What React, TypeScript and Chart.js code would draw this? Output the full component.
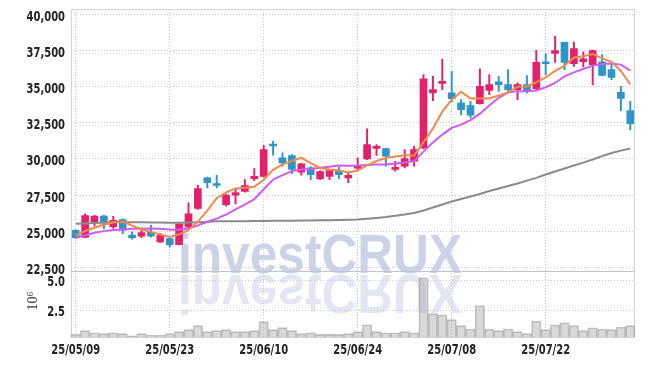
import React, { useEffect, useRef } from 'react';
import { Chart, registerables } from 'chart.js';
Chart.register(...registerables);

const dates = [
  '25/05/09','25/05/12','25/05/13','25/05/14','25/05/15','25/05/16','25/05/19','25/05/20','25/05/21','25/05/22',
  '25/05/23','25/05/26','25/05/27','25/05/28','25/05/29','25/05/30','25/06/02','25/06/04','25/06/05','25/06/09',
  '25/06/10','25/06/11','25/06/12','25/06/13','25/06/16','25/06/17','25/06/18','25/06/19','25/06/20','25/06/23',
  '25/06/24','25/06/25','25/06/26','25/06/27','25/06/30','25/07/01','25/07/02','25/07/03','25/07/04','25/07/07',
  '25/07/08','25/07/09','25/07/10','25/07/11','25/07/14','25/07/15','25/07/16','25/07/17','25/07/18','25/07/21',
  '25/07/22','25/07/23','25/07/24','25/07/25','25/07/28','25/07/29','25/07/30','25/07/31','25/08/01','25/08/04',
];

const opens = [
  25050,24570,25650,26040,25300,25800,24720,24650,24930,24260,
  24490,24070,25300,26570,28690,28300,26840,27490,27760,28640,
  28800,30950,30080,30240,29080,29380,28640,28800,29150,28690,
  29360,30010,30730,30720,29270,29500,29840,30770,34580,35240,
  34580,33890,33700,33840,34760,35340,35150,34810,35150,34880,
  36650,37320,38080,36610,36750,36540,36730,36190,34620,33350,
];
const highs = [
  25100,26200,26100,26100,26030,25850,24950,25230,25400,24850,
  24500,25550,26960,28180,28750,28870,27550,27950,28570,29340,
  30930,31230,30430,30300,29700,29470,29200,29250,29430,29040,
  30080,32090,31000,30750,29840,30650,30880,35850,35730,36930,
  36070,34110,34000,36240,35850,35730,36190,35270,35780,37530,
  37300,38500,38100,38110,37420,37550,37230,36600,35040,34000,
];
const lows = [
  24500,24550,25340,25150,25180,24830,24440,24540,24580,24200,
  23890,24050,25160,26500,28000,28000,26730,26890,27700,28500,
  28750,30260,29500,28990,28870,28570,28570,28570,28640,28350,
  29300,29960,30240,29500,29150,29380,29500,30700,34050,34810,
  33960,33080,32850,33800,34460,34690,34580,34110,34580,34800,
  35850,36700,36190,36420,36380,35150,35750,35500,33350,32040,
];
const closes = [
  24550,26080,26040,25560,25755,25060,24540,24900,24650,24720,
  24070,25510,26200,27950,28350,28160,27490,27670,28160,28800,
  30650,30900,29730,29270,29660,28920,29130,29200,28920,28870,
  29560,31000,30780,30190,29430,30030,30650,35550,34810,35340,
  34180,33420,33030,35040,35150,35150,34810,35150,34740,36700,
  36600,37510,36700,37650,36950,37510,35800,35660,34200,32450,
];

const ma5 = [
  24700,25000,25230,25460,25600,25680,25380,25110,24950,24770,
  24600,24780,25060,25660,26420,27280,27680,27960,28000,28080,
  28560,29250,29630,29880,30080,29710,29380,29270,29210,29070,
  29200,29560,29860,30070,30180,30260,30230,31150,32110,33280,
  34110,34660,34200,34190,34200,34400,34620,35000,35030,35330,
  35650,36100,36460,37040,37120,37280,36970,36730,36100,35170,
];
const ma10 = [
  24540,24720,24890,25000,25070,25110,25160,25160,25180,25160,
  25110,25090,25180,25400,25650,25870,26150,26500,26840,27220,
  27900,28570,28880,29160,29270,29310,29400,29470,29540,29530,
  29540,29575,29610,29610,29680,29750,29850,30510,31140,31690,
  32160,32380,32700,33140,33700,34240,34620,34690,34690,34740,
  34970,35270,35730,36000,36240,36470,36590,36610,36540,36120,
];
const maLong = [
  25506,25527,25560,25596,25610,25624,25624,25610,25596,25596,
  25582,25582,25596,25624,25650,25680,25690,25690,25690,25700,
  25707,25714,25720,25727,25735,25735,25750,25762,25776,25790,
  25804,25852,25908,25977,26067,26150,26254,26427,26635,26843,
  27050,27224,27400,27570,27777,27950,28124,28300,28500,28690,
  28920,29128,29336,29544,29750,29960,30200,30410,30580,30730,
];
const volumes = [
  0.48,0.79,0.62,0.54,0.62,0.54,0.35,0.54,0.43,0.43,
  0.54,0.71,0.88,1.21,0.71,0.79,0.88,0.71,0.71,0.79,
  1.55,0.88,1.04,0.79,0.54,0.60,0.48,0.48,0.48,0.54,
  0.71,1.27,0.71,0.62,0.62,0.71,0.62,5.23,2.22,2.11,
  1.72,1.21,0.93,2.90,0.93,0.79,0.93,0.71,0.54,1.60,
  0.88,1.27,1.44,1.21,0.79,1.02,0.93,0.88,1.10,1.21,
];

const priceTicks = [22500, 25000, 27500, 30000, 32500, 35000, 37500, 40000];
const volumeTicks = [2.5, 5.0];

const UP = '#e4206b';
const DOWN = '#2f95c9';
const GRID = '#c6c8d8';
const LABEL_FONT = "bold 14px 'DejaVu Sans Condensed', 'DejaVu Sans', sans-serif";
const LABEL_SX = 0.79;

const watermark = {
  id: 'watermark',
  beforeDraw(chart: any) {
    const ctx = chart.ctx;
    ctx.save();
    ctx.font = "bold 56px 'Liberation Sans', Arial, sans-serif";
    const text = 'investCRUX';
    const w = ctx.measureText(text).width;
    ctx.translate(178, 273);
    ctx.scale(284 / w, 1);
    ctx.textBaseline = 'alphabetic';
    ctx.fillStyle = 'rgb(204,210,232)';
    ctx.fillText(text, 0, 0);
    ctx.scale(1, -1);
    ctx.fillStyle = 'rgb(228,231,242)';
    ctx.fillText(text, 0, -2);
    ctx.restore();
  },
};

const frame = {
  id: 'frame',
  beforeDatasetsDraw(chart: any) {
    const { ctx, chartArea } = chart;
    const y = chart.scales.y;
    ctx.save();
    ctx.strokeStyle = '#d2d2d8';
    ctx.lineWidth = 1;
    ctx.strokeRect(chartArea.left + 0.5, chartArea.top + 0.5, chartArea.right - chartArea.left - 1, chartArea.bottom - chartArea.top);
    ctx.strokeStyle = '#c4c4c8';
    ctx.beginPath();
    ctx.moveTo(chartArea.left, Math.round(y.bottom) + 0.5);
    ctx.lineTo(chartArea.right, Math.round(y.bottom) + 0.5);
    ctx.stroke();
    ctx.restore();
  },
  afterDraw(chart: any) {
    const ctx = chart.ctx;
    const { x, y, yv } = chart.scales;
    const draw = (text: string, px: number, py: number, align: CanvasTextAlign) => {
      ctx.save();
      ctx.translate(px, py);
      ctx.scale(LABEL_SX, 1);
      ctx.textAlign = align;
      ctx.fillText(text, 0, 0);
      ctx.restore();
    };
    ctx.save();
    ctx.font = LABEL_FONT;
    ctx.fillStyle = '#222';
    ctx.textBaseline = 'alphabetic';
    priceTicks.forEach((v) => draw(v.toLocaleString('en-US'), 65, y.getPixelForValue(v) + 6.5, 'right'));
    volumeTicks.forEach((v) => draw(v.toFixed(1), 65, yv.getPixelForValue(v) + 6, 'right'));
    dates.forEach((d, i) => { if (i % 10 === 0) draw(d, x.getPixelForValue(i), 354, 'center'); });
    ctx.restore();

    ctx.save();
    ctx.translate(33, 301);
    ctx.rotate(-Math.PI / 2);
    ctx.fillStyle = '#333';
    ctx.font = "14px 'Liberation Serif', serif";
    ctx.textAlign = 'center';
    ctx.textBaseline = 'middle';
    ctx.fillText('10\u2076', 0, 0);
    ctx.restore();
  },
};

export default function App() {
  const ref = useRef<HTMLCanvasElement>(null);
  useEffect(() => {
    document.body.style.margin = '0';
    const colors = opens.map((o, i) => (closes[i] >= o ? UP : DOWN));
    const chart = new Chart(ref.current!, {
      type: 'bar',
      data: {
        labels: dates,
        datasets: [
          { type: 'line', label: 'MA5', data: ma5, yAxisID: 'y', borderColor: '#ef8a4c', borderWidth: 2, pointRadius: 0, order: 1 } as any,
          { type: 'line', label: 'MA10', data: ma10, yAxisID: 'y', borderColor: '#cf5cf0', borderWidth: 2, pointRadius: 0, order: 2 } as any,
          { type: 'line', label: 'MA60', data: maLong, yAxisID: 'y', borderColor: '#8a8a8a', borderWidth: 2, pointRadius: 0, order: 3 } as any,
          { type: 'bar', label: 'body', data: opens.map((o, i) => [o, closes[i]]), yAxisID: 'y', backgroundColor: colors, barThickness: 7, minBarLength: 2, grouped: false, order: 4 } as any,
          { type: 'bar', label: 'wick', data: lows.map((l, i) => [l, highs[i]]), yAxisID: 'y', backgroundColor: colors, barThickness: 1.3, grouped: false, order: 5 } as any,
          { type: 'bar', label: 'volume', data: volumes, yAxisID: 'yv', backgroundColor: 'rgba(150,150,150,0.36)', borderColor: 'rgba(120,120,120,0.42)', borderWidth: 1, barPercentage: 1, categoryPercentage: 1, grouped: false, order: 6 } as any,
        ],
      },
      options: {
        responsive: false,
        animation: false,
        devicePixelRatio: 1,
        layout: { padding: { top: 9, right: 10, left: 0, bottom: 0 } },
        plugins: { legend: { display: false }, tooltip: { enabled: false } },
        scales: {
          x: {
            type: 'category',
            offset: true,
            grid: { offset: false, drawTicks: false, color: (c: any) => (c.index % 10 === 0 ? GRID : 'rgba(0,0,0,0)') },
            border: { display: false, dash: [1, 2] },
            ticks: { display: false, autoSkip: false },
            afterFit: (s: any) => { s.height = 29; },
          },
          yv: {
            type: 'linear', position: 'left', stack: 'main', stackWeight: 1,
            min: 0.26, max: 5.76,
            afterBuildTicks: (s: any) => { s.ticks = volumeTicks.map((v) => ({ value: v })); },
            grid: { drawTicks: false, color: GRID },
            border: { display: false, dash: [1, 2] },
            ticks: { display: false, autoSkip: false },
            afterFit: (s: any) => { s.width = 71; },
          },
          y: {
            type: 'linear', position: 'left', stack: 'main', stackWeight: 4,
            min: 22209, max: 40395,
            afterBuildTicks: (s: any) => { s.ticks = priceTicks.map((v) => ({ value: v })); },
            grid: { drawTicks: false, color: GRID },
            border: { display: false, dash: [1, 2] },
            ticks: { display: false, autoSkip: false },
            afterFit: (s: any) => { s.width = 71; },
          },
        },
      } as any,
      plugins: [watermark, frame],
    });
    return () => chart.destroy();
  }, []);
  return <canvas ref={ref} width={645} height={366} style={{ display: 'block' }} />;
}
